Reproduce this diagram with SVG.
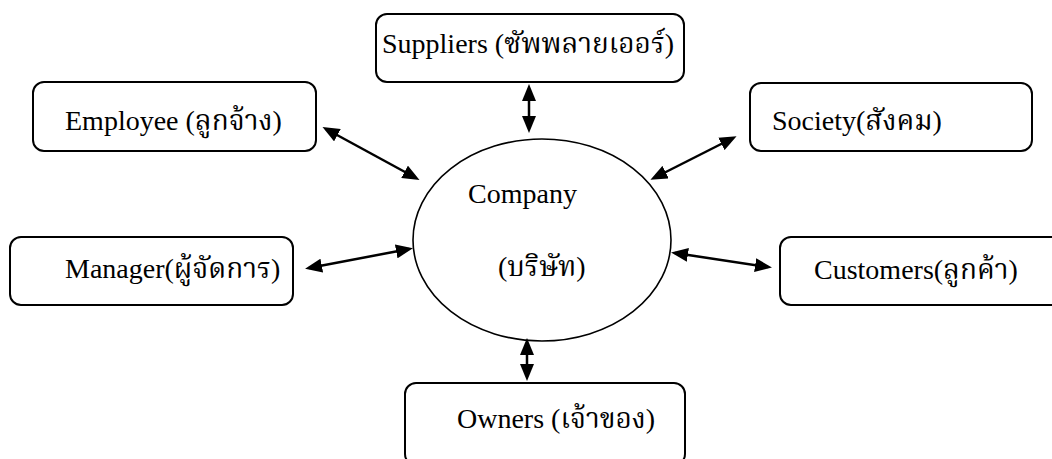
<svg xmlns="http://www.w3.org/2000/svg" width="1052" height="459" viewBox="0 0 1052 459">
<style>
.box{fill:#fff;stroke:#000;stroke-width:2}
.lbl{font-family:"Liberation Serif","Noto Serif Thai","Noto Sans Thai","DejaVu Serif",serif;font-size:28px;fill:#000}
.conn line{stroke:#000;stroke-width:2.5;marker-start:url(#ah);marker-end:url(#ah)}
</style>
<defs>
<marker id="ah" viewBox="0 0 17 14" refX="13" refY="7" markerWidth="17" markerHeight="14" markerUnits="userSpaceOnUse" orient="auto-start-reverse">
<path d="M0,0 L17,7 L0,14 z" fill="#000"/>
</marker>
</defs>
<rect width="1052" height="459" fill="#fff"/>
<g id="company">
<ellipse cx="542" cy="240" rx="129" ry="101" fill="#fff" stroke="#000" stroke-width="1.6"/>
<text class="lbl" x="468" y="203">Company</text>
<text class="lbl" x="498" y="276">(บริษัท)</text>
</g>
<g id="suppliers">
<rect class="box" x="376" y="14" width="308" height="68" rx="11"/>
<text class="lbl" x="382" y="53">Suppliers (ซัพพลายเออร์)</text>
</g>
<g id="employee">
<rect class="box" x="33" y="82" width="283" height="69" rx="11"/>
<text class="lbl" x="65" y="130">Employee (ลูกจ้าง)</text>
</g>
<g id="society">
<rect class="box" x="750" y="83" width="282" height="68" rx="11"/>
<text class="lbl" x="772" y="130">Society(สังคม)</text>
</g>
<g id="manager">
<rect class="box" x="10" y="237" width="283" height="68" rx="11"/>
<text class="lbl" x="65" y="278">Manager(ผู้จัดการ)</text>
</g>
<g id="customers">
<rect class="box" x="780" y="237" width="290" height="68" rx="11"/>
<text class="lbl" x="814" y="279">Customers(ลูกค้า)</text>
</g>
<g id="owners">
<rect class="box" x="405" y="383" width="280" height="82" rx="11"/>
<text class="lbl" x="457" y="428">Owners (เจ้าของ)</text>
</g>
<g class="conn" id="connectors">
<line x1="529" y1="88" x2="529" y2="129"/>
<line x1="326" y1="129" x2="416" y2="178"/>
<line x1="733" y1="138" x2="654" y2="178"/>
<line x1="309" y1="268" x2="409" y2="249"/>
<line x1="675" y1="253" x2="768" y2="267"/>
<line x1="527" y1="342" x2="527" y2="377"/>
</g>
</svg>
